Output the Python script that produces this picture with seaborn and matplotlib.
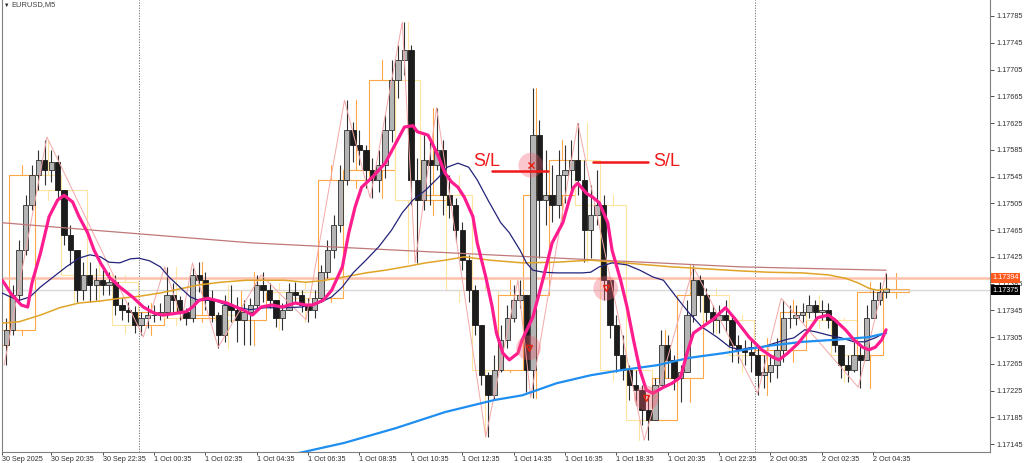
import numpy as np
import pandas as pd
import matplotlib
matplotlib.use('Agg')
import matplotlib.pyplot as plt
import seaborn as sns
from matplotlib.patches import Rectangle, Ellipse

# -----------------------------
# Dati (prezzi in punti = 1e-5)
# candele da 15 minuti, prima candela 30 Sep 18:45
# -----------------------------
first_open = 117293
highs = [117334, 117383, 117450, 117517, 117562, 117585, 117600, 117585, 117577, 117525,
         117473, 117435, 117417, 117417, 117408, 117405, 117402, 117398, 117363, 117357,
         117351, 117343, 117353, 117353, 117356, 117410, 117386, 117366, 117348, 117408,
         117417, 117402, 117375, 117343, 117368, 117383, 117365, 117360, 117363, 117398,
         117402, 117386, 117360, 117356, 117386, 117387, 117375, 117363, 117375, 117413,
         117450, 117488, 117562, 117659, 117627, 117615, 117592, 117573, 117585, 117637,
         117719, 117742, 117776, 117742, 117573, 117607, 117600, 117648, 117600, 117547,
         117513, 117477, 117428, 117383, 117319, 117253, 117278, 117323, 117353, 117383,
         117390, 117363, 117677, 117630, 117585, 117562, 117585, 117592, 117600, 117625,
         117570, 117532, 117555, 117517, 117390, 117338, 117308, 117263, 117256, 117233,
         117219, 117244, 117316, 117308, 117278, 117263, 117360, 117413, 117398, 117378,
         117353, 117353, 117360, 117338, 117308, 117301, 117301, 117289, 117278, 117278,
         117304, 117360, 117353, 117353, 117356, 117368, 117360, 117360, 117356, 117334,
         117293, 117278, 117298, 117293, 117353, 117375, 117387, 117401]
lows = [117263, 117308, 117360, 117428, 117495, 117525, 117532, 117537, 117510, 117443,
        117413, 117357, 117360, 117357, 117360, 117368, 117368, 117338, 117331, 117328,
        117311, 117308, 117319, 117328, 117331, 117334, 117343, 117331, 117323, 117328,
        117372, 117345, 117328, 117289, 117298, 117328, 117298, 117293, 117293, 117348,
        117357, 117348, 117320, 117316, 117348, 117356, 117343, 117328, 117334, 117357,
        117393, 117423, 117462, 117532, 117567, 117562, 117528, 117513, 117522, 117543,
        117597, 117662, 117697, 117502, 117416, 117495, 117502, 117555, 117488, 117483,
        117447, 117405, 117357, 117308, 117233, 117156, 117211, 117253, 117289, 117328,
        117348, 117223, 117214, 117423, 117473, 117477, 117483, 117505, 117517, 117517,
        117417, 117423, 117473, 117360, 117304, 117253, 117241, 117211, 117203, 117174,
        117151, 117193, 117238, 117244, 117226, 117208, 117253, 117328, 117343, 117328,
        117311, 117311, 117313, 117268, 117266, 117263, 117253, 117219, 117229, 117238,
        117244, 117268, 117319, 117323, 117328, 117334, 117331, 117331, 117319, 117283,
        117244, 117238, 117253, 117229, 117283, 117334, 117353, 117363]
closes = [117316, 117368, 117435, 117502, 117547, 117570, 117555, 117567, 117525, 117458,
          117435, 117375, 117398, 117383, 117390, 117383, 117387, 117353, 117345, 117343,
          117323, 117334, 117338, 117338, 117343, 117368, 117360, 117343, 117334, 117398,
          117390, 117360, 117338, 117308, 117353, 117345, 117331, 117343, 117353, 117383,
          117375, 117360, 117334, 117345, 117372, 117368, 117353, 117345, 117363, 117402,
          117435, 117473, 117540, 117615, 117592, 117585, 117555, 117540, 117562, 117615,
          117689, 117719, 117734, 117540, 117510, 117570, 117562, 117585, 117517, 117502,
          117465, 117420, 117375, 117323, 117248, 117219, 117256, 117301, 117334, 117360,
          117368, 117256, 117607, 117510, 117517, 117502, 117547, 117555, 117570, 117540,
          117465, 117488, 117502, 117390, 117323, 117278, 117256, 117233, 117226, 117196,
          117181, 117233, 117293, 117271, 117244, 117253, 117338, 117390, 117368, 117343,
          117331, 117338, 117331, 117293, 117286, 117283, 117278, 117248, 117253, 117263,
          117286, 117334, 117334, 117338, 117343, 117353, 117343, 117345, 117331, 117293,
          117263, 117256, 117278, 117271, 117334, 117360, 117372, 117377]

# Indicatori: posizione in barre M5 (0 = 30 Sep 18:40) e prezzo in punti
pink_bar = [0, 1, 4, 7, 9, 12, 14, 18, 22, 26, 29, 33, 36, 40, 43, 46, 50, 55, 61, 66,
            71, 75, 80, 86, 89, 92, 96, 100, 105, 113, 117, 121, 126, 131, 137, 142, 145,
            150, 154, 159, 162, 165, 168, 173, 179, 184, 188, 192, 194, 199, 201, 204, 207,
            210, 213, 216, 220, 222, 226, 229, 231, 234, 237, 241, 243, 248, 253, 257, 262,
            265, 267, 269, 273, 276, 279, 283, 285, 289, 292, 295, 298, 301, 304, 309, 313,
            317, 320, 323, 327, 332, 338, 342, 349, 355, 360, 363, 367, 372, 377, 381, 386,
            389, 394, 398, 402, 405, 408, 411, 413]
pink_val = [117390, 117386, 117371, 117360, 117353, 117350, 117386, 117431, 117485, 117510,
            117517, 117507, 117485, 117461, 117435, 117416, 117395, 117380, 117365, 117350,
            117341, 117338, 117340, 117343, 117350, 117360, 117363, 117360, 117356, 117345,
            117338, 117350, 117353, 117350, 117356, 117353, 117353, 117360, 117375, 117410,
            117461, 117500, 117529, 117544, 117565, 117595, 117619, 117621, 117612, 117607,
            117595, 117574, 117550, 117537, 117529, 117514, 117485, 117446, 117395, 117350,
            117311, 117281, 117271, 117281, 117301, 117335, 117395, 117446, 117476, 117510,
            117529, 117535, 117520, 117514, 117506, 117476, 117435, 117390, 117350, 117301,
            117256, 117226, 117221, 117230, 117236, 117245, 117281, 117311, 117320, 117331,
            117349, 117334, 117305, 117286, 117275, 117271, 117281, 117296, 117316, 117334,
            117338, 117331, 117316, 117301, 117290, 117286, 117290, 117301, 117316]
navy_bar = [0, 4, 8, 13, 18, 24, 30, 36, 41, 46, 50, 55, 60, 64, 69, 74, 78, 83, 88, 92,
            99, 105, 111, 116, 123, 132, 140, 148, 154, 159, 164, 170, 176, 182, 187, 192,
            198, 204, 208, 213, 218, 222, 227, 233, 237, 242, 245, 248, 253, 259, 265, 271,
            275, 279, 285, 292, 298, 304, 309, 315, 321, 327, 334, 340, 345, 349, 355, 361,
            366, 370, 375, 380, 386, 392, 398, 403, 408, 412]
navy_val = [117371, 117365, 117360, 117365, 117380, 117395, 117410, 117423, 117428, 117425,
            117417, 117416, 117422, 117423, 117419, 117410, 117395, 117380, 117365, 117360,
            117360, 117353, 117349, 117346, 117349, 117349, 117350, 117356, 117365, 117380,
            117401, 117420, 117440, 117465, 117491, 117510, 117525, 117544, 117559, 117565,
            117559, 117540, 117510, 117476, 117461, 117435, 117416, 117405, 117402, 117401,
            117401, 117401, 117402, 117410, 117416, 117413, 117405, 117395, 117390, 117365,
            117341, 117320, 117305, 117290, 117286, 117289, 117290, 117296, 117301, 117304,
            117316, 117313, 117308, 117304, 117298, 117298, 117304, 117311]
gold_bar = [0, 8, 18, 27, 36, 46, 55, 64, 74, 83, 92, 102, 114, 123, 132, 142, 151, 160,
            170, 179, 188, 198, 207, 216, 228, 243, 259, 275, 287, 298, 313, 329, 345, 358,
            374, 386, 394, 400, 405, 409, 414]
gold_val = [117326, 117328, 117338, 117349, 117356, 117359, 117363, 117366, 117371, 117377,
            117383, 117387, 117390, 117390, 117390, 117387, 117390, 117395, 117401, 117405,
            117410, 117416, 117420, 117425, 117420, 117416, 117417, 117420, 117417, 117414,
            117410, 117407, 117404, 117402, 117401, 117398, 117393, 117386, 117378, 117375,
            117377]
red_bar = [0, 46, 116, 228, 345, 413]
red_val = [117476, 117464, 117446, 117428, 117410, 117405]
blue_bar = [139, 160, 184, 207, 230, 243, 259, 275, 290, 306, 321, 337, 358, 374, 389, 405, 413]
blue_val = [117132, 117147, 117169, 117193, 117211, 117218, 117236, 117248, 117256, 117263,
            117274, 117281, 117292, 117298, 117301, 117305, 117311]
zz_bar = [1, 21, 66, 76, 84, 89, 101, 121, 142, 160, 172, 187, 193, 203, 226, 241, 247,
          269, 300, 323, 353, 364, 400, 413]
zz_val = [117263, 117604, 117305, 117410, 117331, 117416, 117290, 117398, 117331, 117659,
          117513, 117776, 117416, 117648, 117156, 117390, 117215, 117625, 117151, 117410,
          117221, 117363, 117230, 117401]

# segnali e livelli
sig_bar = [247, 246, 282, 301]
sig_val = [117562, 117289, 117378, 117214]
sig_marker = ['x', 'v', 'v', 'v']
sl_bar_from = [229, 276]
sl_bar_to = [255, 302]
sl_val = [117553, 117567]
sl_text_bar = [220, 304]
sl_text_val = [117567, 117568]
ask_price = 1.17394
bid_price = 1.17375

tick_prices = [1.17145 + 0.0004 * i for i in range(17)]
xtick_bars = [0] + [23 + 24 * i for i in range(17)]
xtick_labels = ['30 Sep 2025', '30 Sep 20:35', '30 Sep 22:35', '1 Oct 00:35', '1 Oct 02:35',
                '1 Oct 04:35', '1 Oct 06:35', '1 Oct 08:35', '1 Oct 10:35', '1 Oct 12:35',
                '1 Oct 14:35', '1 Oct 16:35', '1 Oct 18:35', '1 Oct 20:35', '1 Oct 22:35',
                '2 Oct 00:35', '2 Oct 02:35', '2 Oct 04:35']
day_bars = [64, 352]

# -----------------------------
# Tabella candele
# -----------------------------
df = pd.DataFrame({'high': highs, 'low': lows, 'close': closes}) / 1e5
df['open'] = df['close'].shift(1).fillna(first_open / 1e5)
df['high'] = df[['high', 'open', 'close']].max(axis=1)
df['low'] = df[['low', 'open', 'close']].min(axis=1)
df['bar'] = 3 * np.arange(len(df)) + 2
df['hour'] = (np.arange(len(df)) + 3) // 4
hourly = df.groupby('hour').agg(open=('open', 'first'), close=('close', 'last'),
                                high=('high', 'max'), low=('low', 'min')).reset_index()

sns.set_theme(style='white')
plt.rcParams['font.family'] = ['Liberation Sans', 'DejaVu Sans']

fig = plt.figure(figsize=(10.24, 4.63), dpi=100)
ax = fig.add_axes([2 / 1024, 11 / 463, 988 / 1024, 452 / 463])
ax.set_facecolor('white')

# box H1
for _, r in hourly.iterrows():
    left = 12 * r['hour'] - 8.5
    mid = left + 6
    col = '#FFA646' if r['close'] >= r['open'] else '#FFE49E'
    lo, hi = min(r['open'], r['close']), max(r['open'], r['close'])
    ax.add_patch(Rectangle((left, lo), 12, hi - lo, fill=False, edgecolor=col, lw=0.8, zorder=1))
    ax.plot([mid, mid], [hi, r['high']], color=col, lw=0.8, zorder=1)
    ax.plot([mid, mid], [r['low'], lo], color=col, lw=0.8, zorder=1)

# candele
ax.vlines(df['bar'], df['low'], df['high'], color='#303030', lw=0.8, zorder=2)
bull = df['close'] >= df['open']
ax.bar(df['bar'][bull], (df['close'] - df['open'])[bull], bottom=df['open'][bull], width=2.5,
       color='#b4b4b4', edgecolor='#303030', linewidth=0.6, zorder=3)
ax.bar(df['bar'][~bull], (df['open'] - df['close'])[~bull], bottom=df['close'][~bull], width=2.5,
       color='#1c1c1c', edgecolor='#1c1c1c', linewidth=0.6, zorder=3)

# livelli bid/ask
ax.axhline(ask_price, color='#FFC0AA', lw=1.8, zorder=1.5)
ax.axhline(bid_price, color='#D9D9D9', lw=1.0, zorder=1.5)

# indicatori
sns.lineplot(x=zz_bar, y=np.array(zz_val) / 1e5, ax=ax, color='#F4A8A8', lw=0.7, sort=False, estimator=None, zorder=4)
sns.lineplot(x=red_bar, y=np.array(red_val) / 1e5, ax=ax, color='#C07878', lw=0.9, sort=False, estimator=None, zorder=4)
sns.lineplot(x=gold_bar, y=np.array(gold_val) / 1e5, ax=ax, color='#E0A428', lw=1.1, sort=False, estimator=None, zorder=4)
sns.lineplot(x=navy_bar, y=np.array(navy_val) / 1e5, ax=ax, color='#23237A', lw=0.9, sort=False, estimator=None, zorder=5)
sns.lineplot(x=blue_bar, y=np.array(blue_val) / 1e5, ax=ax, color='#1E8EF0', lw=1.6, sort=False, estimator=None, zorder=5)
sns.lineplot(x=pink_bar, y=np.array(pink_val) / 1e5, ax=ax, color='#FF1C8E', lw=2.3, sort=False, estimator=None, zorder=6)

# segnali
for b, v, m in zip(sig_bar, sig_val, sig_marker):
    ax.add_patch(Ellipse((b, v / 1e5), 11.5, 0.00037, color='#F06070', alpha=0.35, lw=0, zorder=7))
    ax.plot([b], [v / 1e5], marker=m, ms=5, mfc='none', mec='#E82010', mew=1.0, zorder=9)

# S/L
for b0, b1, v in zip(sl_bar_from, sl_bar_to, sl_val):
    ax.plot([b0, b1], [v / 1e5, v / 1e5], color='#F01818', lw=1.8, zorder=8)
for b, v in zip(sl_text_bar, sl_text_val):
    ax.text(b, v / 1e5, 'S/L', color='#F01818', fontsize=13, va='center', ha='left', zorder=8)

# separatori giorno
for b in day_bars:
    ax.axvline(b, color='#707070', lw=0.7, ls=(0, (1.2, 1.5)), zorder=1)

# assi
ax.set_xlim(0, 988 / 2.1406)
ax.set_ylim(1.171333, 1.178089)
ax.set_xlabel('')
ax.set_ylabel('')
ax.yaxis.tick_right()
ax.set_yticks(tick_prices)
ax.set_yticklabels([f'{p:.5f}' for p in tick_prices])
ax.set_xticks(xtick_bars)
ax.set_xticklabels(xtick_labels)
for lbl in ax.get_xticklabels():
    lbl.set_ha('left')
ax.tick_params(axis='both', labelsize=5.2, colors='#303030', width=0.6)
ax.tick_params(axis='y', direction='out', right=True, left=False, length=3, pad=1.5)
ax.tick_params(axis='x', direction='out', bottom=True, length=2.5, pad=0.3)
for s in ['left', 'bottom', 'right']:
    ax.spines[s].set_visible(True)
    ax.spines[s].set_color('#808080')
    ax.spines[s].set_linewidth(0.8)
ax.spines['top'].set_visible(False)
ax.grid(False)

# etichette prezzo
trans = ax.get_yaxis_transform()
ax.text(1.002, ask_price, f'{ask_price:.5f}', transform=trans, ha='left', va='center',
        color='white', fontsize=5.2, bbox=dict(boxstyle='square,pad=0.2', fc='#FF5A1E', ec='none'), clip_on=False)
ax.text(1.002, bid_price, f'{bid_price:.5f}', transform=trans, ha='left', va='center',
        color='white', fontsize=5.2, bbox=dict(boxstyle='square,pad=0.2', fc='black', ec='none'), clip_on=False)

fig.text(4 / 1024, 1 - 5 / 463, '▼', fontsize=4, color='#202020', va='center', ha='left')
fig.text(11 / 1024, 1 - 5 / 463, 'EURUSD,M5', fontsize=5.4, color='#404040', va='center', ha='left')

fig.savefig('out.png', dpi=100, facecolor='white')
